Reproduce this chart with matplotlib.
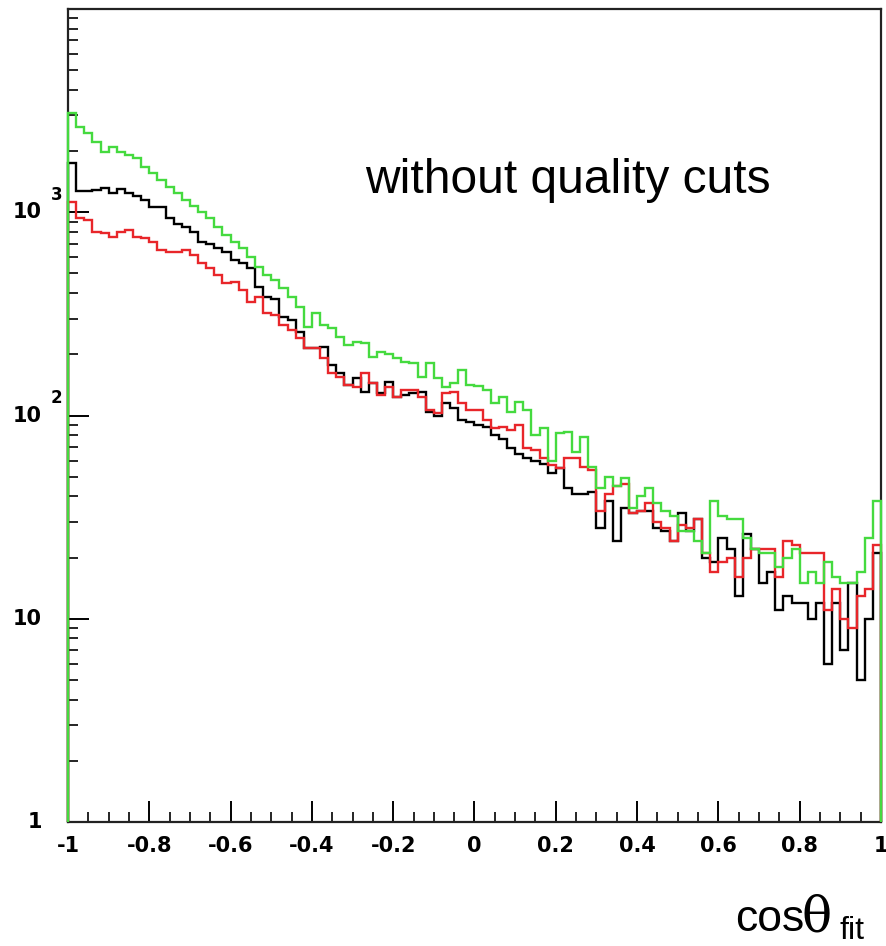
import matplotlib.pyplot as plt
import matplotlib.transforms as mtransforms
import numpy as np

# cos(theta_fit) histograms, 100 bins between -1 and 1
bin_edges = np.linspace(-1, 1, 101)

counts_black = [
    1743, 1270, 1270, 1290, 1310, 1250, 1300, 1240, 1200, 1147,
    1060, 1060, 936, 880, 845, 800, 713, 700, 666, 640,
    581, 560, 530, 427, 382, 375, 305, 294, 257, 215,
    215, 218, 177, 162, 141, 153, 130, 144, 129, 146,
    123, 126, 129, 130, 104, 100, 115, 109, 95, 93,
    90, 88, 80, 77, 69, 65, 62, 60, 58, 52,
    55, 44, 41, 41, 42, 28, 38, 24, 35, 33,
    34, 34, 28, 27, 24, 33, 27, 31, 20, 19,
    25, 22, 13, 26, 22, 15, 17, 11, 13, 12,
    12, 10, 12, 6, 12, 7, 15, 5, 10, 21,
]

counts_red = [
    1121, 936, 915, 798, 790, 754, 798, 817, 754, 746,
    713, 652, 640, 640, 652, 615, 560, 530, 491, 448,
    455, 414, 361, 382, 319, 312, 279, 263, 240, 215,
    215, 191, 162, 155, 141, 138, 162, 144, 126, 138,
    123, 133, 133, 123, 106, 103, 129, 130, 115, 106,
    106, 95, 87, 88, 85, 90, 69, 68, 62, 57,
    55, 62, 62, 56, 54, 34, 41, 45, 46, 33,
    34, 37, 30, 28, 24, 29, 28, 31, 21, 17,
    19, 20, 16, 20, 22, 22, 22, 16, 24, 23,
    21, 21, 21, 11, 14, 10, 9, 13, 14, 23,
]

counts_green = [
    3070, 2620, 2450, 2210, 1975, 2090, 1975, 1910, 1845, 1667,
    1557, 1440, 1328, 1241, 1147, 1072, 1002, 936, 845, 771,
    713, 666, 601, 537, 491, 463, 423, 382, 341, 272,
    319, 279, 269, 243, 222, 230, 227, 194, 205, 200,
    191, 183, 181, 155, 181, 153, 138, 144, 167, 141,
    140, 133, 115, 123, 104, 116, 106, 80, 87, 60,
    82, 83, 66, 78, 56, 44, 50, 45, 49, 35,
    40, 44, 37, 34, 32, 27, 27, 24, 21, 38,
    32, 31, 31, 25, 22, 21, 21, 18, 20, 22,
    15, 17, 15, 19, 16, 15, 15, 17, 25, 38,
]

x_ticks = [-1, -0.8, -0.6, -0.4, -0.2, 0, 0.2, 0.4, 0.6, 0.8, 1]
x_tick_labels = ['-1', '-0.8', '-0.6', '-0.4', '-0.2', '0', '0.2', '0.4', '0.6', '0.8', '1']
y_ticks = [1, 10, 100, 1000]

fig = plt.figure(figsize=(8.86, 9.46), dpi=100)
ax = fig.add_axes([68 / 886, 1 - 822 / 946, 813 / 886, 813 / 946])

for counts, col, z in [(counts_black, 'black', 3),
                       (counts_red, '#e8262a', 4),
                       (counts_green, '#45da3f', 5)]:
    ax.stairs(counts, bin_edges, baseline=1, color=col, lw=1.7,
              zorder=z, clip_on=False)

ax.set_xlim(-1, 1)
ax.set_yscale('log')
ax.set_ylim(1, 10000)

for side in ['left', 'bottom', 'right', 'top']:
    ax.spines[side].set_linewidth(1.6)
    ax.spines[side].set_color('#222222')

ax.set_xticks(x_ticks)
ax.set_xticklabels(x_tick_labels, fontfamily='DejaVu Sans',
                   fontweight='bold', fontsize=15)
ax.set_xticks(np.arange(-1, 1.001, 0.05), minor=True)
ax.tick_params(axis='x', which='major', direction='in', length=15, width=1.4, pad=10)
ax.tick_params(axis='x', which='minor', direction='in', length=7, width=1.2)

ax.set_yticks(y_ticks)
ax.set_yticklabels([])
ax.yaxis.set_minor_locator(plt.matplotlib.ticker.LogLocator(base=10, subs=np.arange(2, 10)))
ax.yaxis.set_minor_formatter(plt.matplotlib.ticker.NullFormatter())
ax.tick_params(axis='y', which='major', direction='in', length=15, width=1.4)
ax.tick_params(axis='y', which='minor', direction='in', length=7, width=1.2)

# y labels in ROOT style: 1, 10, 10^2, 10^3
ylab = mtransforms.blended_transform_factory(fig.transFigure, ax.transData)
lab_font = dict(fontfamily='DejaVu Sans', fontweight='bold', fontsize=15,
                va='center', transform=ylab)
ax.text(42 / 886, 1, '1', ha='right', **lab_font)
ax.text(42 / 886, 10, '10', ha='right', **lab_font)
for val, exp in [(100, '2'), (1000, '3')]:
    ax.text(42 / 886, val, '10', ha='right', **lab_font)
    ax.text(51 / 886, val * 1.22, exp, ha='left', fontfamily='DejaVu Sans',
            fontweight='bold', fontsize=12, va='center', transform=ylab)

fig.text(365 / 886, 1 - 193 / 946, 'without quality cuts',
         fontfamily='Liberation Sans', fontsize=34.5, va='baseline', ha='left')

# axis title cos(theta)_fit
fig.text(735 / 886, 1 - 931 / 946, 'cos', fontfamily='Liberation Sans',
         fontsize=32, va='baseline', ha='left')
fig.text(801 / 886, 1 - 931 / 946, 'θ', fontfamily='DejaVu Serif',
         fontsize=36, va='baseline', ha='left')
fig.text(839 / 886, 1 - 939 / 946, 'fit', fontfamily='Liberation Sans',
         fontsize=23, va='baseline', ha='left')

fig.savefig('out.png', dpi=100)
